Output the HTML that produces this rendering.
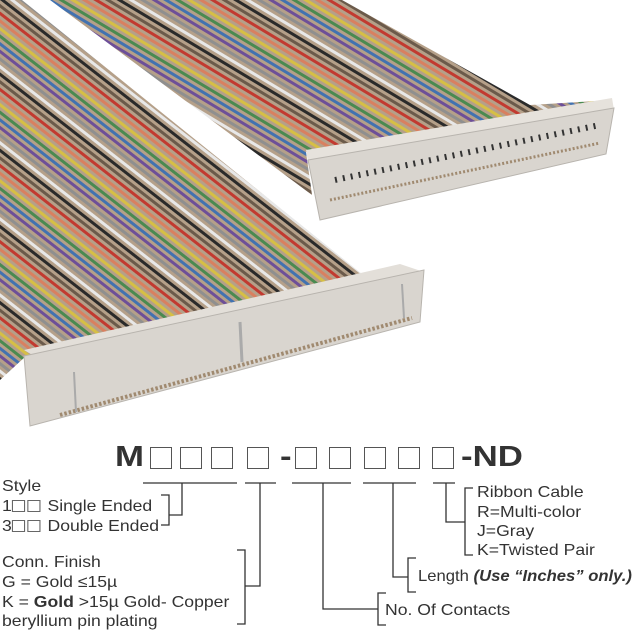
<!DOCTYPE html>
<html><head><meta charset="utf-8"><style>
body{margin:0;background:#fff;}
#c{position:relative;width:640px;height:640px;overflow:hidden;font-family:"Liberation Sans","DejaVu Sans",sans-serif;color:#333;}
.t{position:absolute;font-size:16px;white-space:nowrap;line-height:1;transform:scaleX(1.1);transform-origin:0 0;}
.b{position:absolute;top:447px;width:20px;height:20px;border:1.6px solid #555;}
.s{display:inline-block;width:12px;height:12px;border:1px solid #666;vertical-align:-1px;margin-right:2px;box-sizing:border-box;}
.h{position:absolute;top:443px;font-size:29px;font-weight:bold;line-height:1;transform:scaleX(1.2);transform-origin:0 0;color:#333;}
</style></head><body><div id="c">
<svg width="640" height="640" style="position:absolute;left:0;top:0">
<defs>
<pattern id="w1" width="8" height="60" patternUnits="userSpaceOnUse" patternTransform="rotate(38)">
<rect width="8" height="60" fill="#b5a089"/>
<rect y="3" width="8" height="3" fill="#6b5a4a"/><rect y="9" width="8" height="3" fill="#c23a30"/>
<rect y="15" width="8" height="3" fill="#d98060"/><rect y="21" width="8" height="3" fill="#d6bf45"/>
<rect y="27" width="8" height="3" fill="#4a8a50"/><rect y="33" width="8" height="3" fill="#4272b0"/>
<rect y="39" width="8" height="3" fill="#6d4f98"/><rect y="45" width="8" height="3" fill="#8f8f8f"/>
<rect y="51" width="8" height="3" fill="#e8e8e8"/><rect y="57" width="8" height="3" fill="#2a2a2a"/>
</pattern>
<pattern id="w2" width="8" height="60" patternUnits="userSpaceOnUse" patternTransform="rotate(31)">
<rect width="8" height="60" fill="#b5a089"/>
<rect y="3" width="8" height="3" fill="#6b5a4a"/><rect y="9" width="8" height="3" fill="#c23a30"/>
<rect y="15" width="8" height="3" fill="#d98060"/><rect y="21" width="8" height="3" fill="#d6bf45"/>
<rect y="27" width="8" height="3" fill="#4a8a50"/><rect y="33" width="8" height="3" fill="#4272b0"/>
<rect y="39" width="8" height="3" fill="#6d4f98"/><rect y="45" width="8" height="3" fill="#8f8f8f"/>
<rect y="51" width="8" height="3" fill="#e8e8e8"/><rect y="57" width="8" height="3" fill="#2a2a2a"/>
</pattern>
</defs>
<polygon points="50,0 342,0 530,105 612,100 306,152 312,195" fill="url(#w2)"/>
<polygon points="0,0 22,0 372,282 424,273 26,356 0,380" fill="url(#w1)"/>
<polygon points="306,150 612,98 614,110 308,162" fill="#e6e2dc"/>
<polygon points="308,160 614,108 606,154 320,220" fill="#d9d5cf" stroke="#b8b4ae" stroke-width="1"/>
<line x1="330" y1="200" x2="600" y2="143" stroke="#a08a70" stroke-width="3" stroke-dasharray="2 2"/>
<line x1="335" y1="180" x2="600" y2="125" stroke="#333" stroke-width="6" stroke-dasharray="2 6"/>
<polygon points="24,350 400,264 424,272 44,362" fill="#e3dfd9"/>
<polygon points="24,356 424,270 420,322 30,426" fill="#d9d5cf" stroke="#b8b4ae" stroke-width="1"/>
<line x1="60" y1="415" x2="412" y2="318" stroke="#a08a70" stroke-width="4" stroke-dasharray="2.5 2"/>
<line x1="74" y1="372" x2="76" y2="412" stroke="#aaa" stroke-width="2"/>
<line x1="240" y1="322" x2="242" y2="362" stroke="#aaa" stroke-width="3"/>
<line x1="402" y1="284" x2="404" y2="318" stroke="#aaa" stroke-width="2"/>
<g stroke="#333" stroke-width="1.3" fill="none">
<line x1="143" y1="483" x2="237" y2="483"/><line x1="245" y1="483" x2="276" y2="483"/>
<line x1="292" y1="483" x2="351" y2="483"/><line x1="363" y1="483" x2="416" y2="483"/>
<line x1="433" y1="483" x2="455" y2="483"/>
<polyline points="182,483 182,515 169,515"/><polyline points="161,495 169,495 169,525 161,525"/>
<polyline points="260,483 260,586 245,586"/><polyline points="237,550 245,550 245,624 237,624"/>
<polyline points="323,483 323,609 378,609"/><polyline points="386,593 378,593 378,625 386,625"/>
<polyline points="393,483 393,577 408,577"/><polyline points="416,558 408,558 408,592 416,592"/>
<polyline points="446,483 446,522 465,522"/><polyline points="473,488 465,488 465,555 473,555"/>
</g>
</svg>
<div class="h" style="left:115px">M</div>
<div class="b" style="left:150px"></div><div class="b" style="left:180px"></div>
<div class="b" style="left:211px"></div><div class="b" style="left:247px"></div>
<div class="h" style="left:280px">-</div>
<div class="b" style="left:295px"></div><div class="b" style="left:329px"></div>
<div class="b" style="left:364px"></div><div class="b" style="left:398px"></div>
<div class="b" style="left:432px"></div>
<div class="h" style="left:461px">-ND</div>
<div class="t" style="left:2px;top:479px">Style</div>
<div class="t" style="left:2px;top:499px">1<span class="s"></span><span class="s"></span> Single Ended</div>
<div class="t" style="left:2px;top:519px">3<span class="s"></span><span class="s"></span> Double Ended</div>
<div class="t" style="left:2px;top:555px">Conn. Finish</div>
<div class="t" style="left:2px;top:575px">G = Gold ≤15µ</div>
<div class="t" style="left:2px;top:595px">K = <b style="font-weight:600">Gold</b> &gt;15µ Gold- Copper</div>
<div class="t" style="left:2px;top:614px">beryllium pin plating</div>
<div class="t" style="left:477px;top:485px">Ribbon Cable</div>
<div class="t" style="left:477px;top:505px">R=Multi-color</div>
<div class="t" style="left:477px;top:524px">J=Gray</div>
<div class="t" style="left:477px;top:543px">K=Twisted Pair</div>
<div class="t" style="left:418px;top:569px;transform:scaleX(1.04)">Length <b><i>(Use “Inches” only.)</i></b></div>
<div class="t" style="left:385px;top:603px">No. Of Contacts</div>
</div></body></html>
